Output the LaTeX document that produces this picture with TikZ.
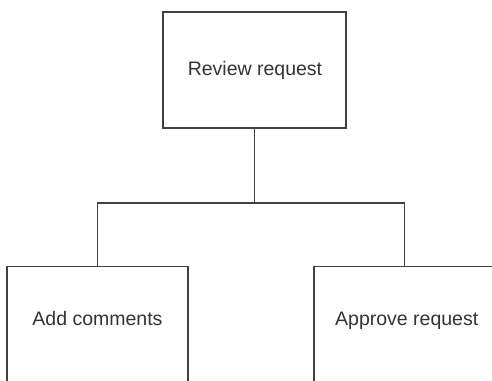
\documentclass[tikz,border=0pt]{standalone}
\usepackage{fontspec}
\setmainfont{Liberation Sans}
\begin{document}
\begin{tikzpicture}[x=1pt,y=-1pt,
  boxstyle/.style={draw=black!75,line width=1.4pt,fill=white,rectangle,inner sep=0pt},
  conn/.style={draw=black!75,line width=1.4pt},
  lbl/.style={font=\fontsize{19.5}{22}\selectfont,text=black!80,inner sep=0pt,anchor=base}]
\useasboundingbox (0,0) rectangle (492,380);
\clip (0,0) rectangle (492,380);
\node[boxstyle,minimum width=183pt,minimum height=116pt] (top) at (254.5,70) {};
\node[lbl] (toptxt) at (255,75.7) {Review request};
\node[boxstyle,minimum width=181pt,minimum height=140pt,anchor=north] (left) at (97.5,266) {};
\node[lbl] (lefttxt) at (97.5,325.7) {Add comments};
\node[boxstyle,minimum width=181pt,minimum height=140pt,anchor=north] (right) at (404.5,266) {};
\node[lbl] (righttxt) at (406.7,325.7) {Approve request};
\coordinate (j) at (254.5,203);
\draw[conn] (top.south) -- (j);
\draw[conn] (j) -| (left.north);
\draw[conn] (j) -| (right.north);
\end{tikzpicture}
\end{document}
